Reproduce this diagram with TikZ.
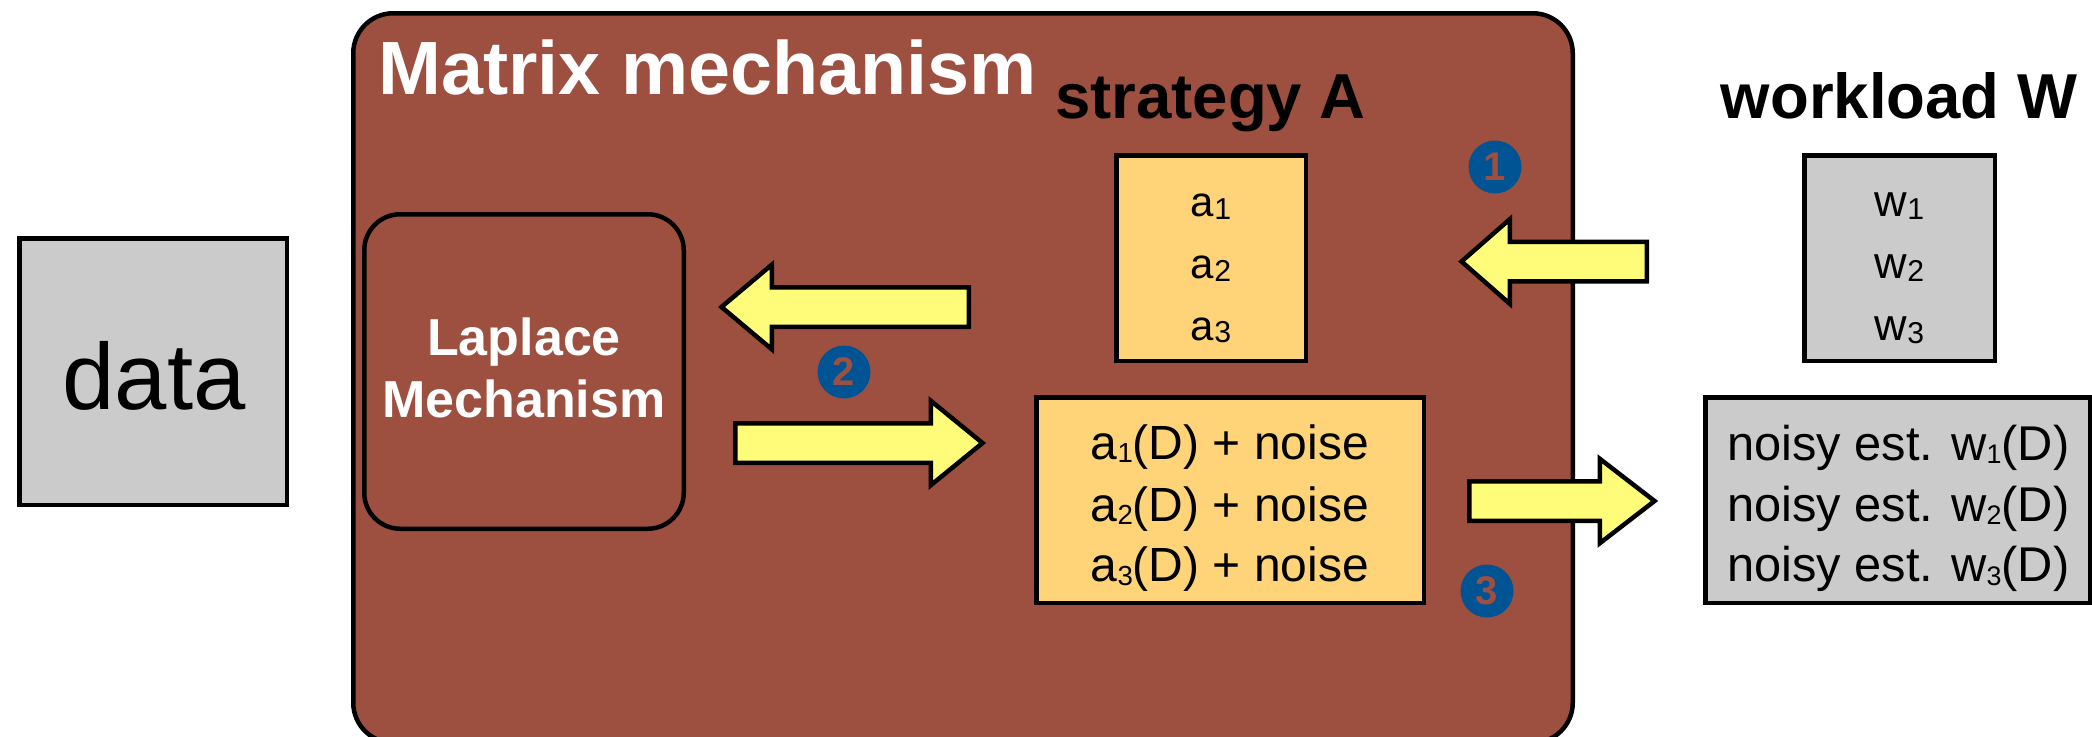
\documentclass[tikz,border=0pt]{standalone}
\usepackage{fontspec}
\setmainfont{Liberation Sans}
\usepackage{graphicx}
\definecolor{mech}{HTML}{9D4F40}
\definecolor{strat}{HTML}{FFD479}
\definecolor{work}{HTML}{CBCBCB}
\definecolor{flow}{HTML}{FFFC79}
\definecolor{stepblue}{HTML}{005493}
% lowered, shrunken index digit
\newcommand\lo[2][0.6]{\raisebox{-0.07em}{\scalebox{#1}{#2}}}
\newcommand\fsz[1]{\fontsize{#1}{#1}\selectfont}
% block arrow: tail x, head-base x, tip x, centre y
\newcommand\fatarrow[4]{%
  \draw[fatarrow] (#1,#4-19.75) -- (#2,#4-19.75) -- (#2,#4-42.25) -- (#3,#4)
    -- (#2,#4+42.25) -- (#2,#4+19.75) -- (#1,#4+19.75) -- cycle;}
\begin{document}
\begin{tikzpicture}[x=1pt,y=-1pt,
  box/.style={draw=black,line width=4.5pt,inner sep=0pt,rectangle},
  fatarrow/.style={draw=black,fill=flow,line width=4.5pt,line join=miter},
  stepmark/.style={circle,fill=stepblue,minimum size=53pt,inner sep=0pt,
    text=mech,font=\bfseries\fsz{40}},
  txt/.style={anchor=base,inner sep=0pt}]
\useasboundingbox (0,0) rectangle (2092,736);
\fill[white] (0,0) rectangle (2092,736);

% data source
\node[box,fill=work,minimum width=267.5pt,minimum height=266.5pt] (data) at (153,371.5) {};
\node[txt,font=\fsz{94}] (datalbl) at (154,409) {data};

% matrix mechanism frame
\node[box,fill=mech,rounded corners=40pt,minimum width=1219.5pt,minimum height=729.5pt] (mm) at (963,378) {};
\node[txt,anchor=base west,text=white,font=\bfseries\fsz{75.5}] (mmtitle) at (378,94) {Matrix mechanism};

% laplace mechanism
\node[box,rounded corners=36pt,minimum width=319.5pt,minimum height=314.5pt] (lap) at (524,371.5) {};
\node[txt,text=white,font=\bfseries\fsz{52}] (lap1) at (524,355) {Laplace};
\node[txt,text=white,font=\bfseries\fsz{52}] (lap2) at (524,417) {Mechanism};

% strategy
\node[txt,anchor=base west,font=\bfseries\fsz{63.5}] (strattitle) at (1055,118) {strategy A};
\node[box,fill=strat,minimum width=189.5pt,minimum height=205.5pt] (strat) at (1211,258) {};
\node[txt,font=\fsz{42}] (a1) at (1211,216.7) {a\lo[0.72]{1}};
\node[txt,font=\fsz{42}] (a2) at (1211,278.3) {a\lo[0.72]{2}};
\node[txt,font=\fsz{42}] (a3) at (1211,340) {a\lo[0.72]{3}};

% noisy answers to the strategy
\node[box,fill=strat,minimum width=387.5pt,minimum height=205.5pt] (ans) at (1230,500) {};
\node[txt,font=\fsz{48}] (ans1) at (1230,459.3) {a\lo[0.575]{1}(D) + noise};
\node[txt,font=\fsz{48}] (ans2) at (1230,521) {a\lo[0.575]{2}(D) + noise};
\node[txt,font=\fsz{48}] (ans3) at (1230,581.7) {a\lo[0.575]{3}(D) + noise};

% workload
\node[txt,font=\bfseries\fsz{63.5}] (worktitle) at (1899,118) {workload W};
\node[box,fill=work,minimum width=190.5pt,minimum height=205.5pt] (work) at (1899.5,258) {};
\node[txt,font=\fsz{45}] (w1) at (1899.5,216.7) {w\lo[0.67]{1}};
\node[txt,font=\fsz{45}] (w2) at (1899.5,278.3) {w\lo[0.67]{2}};
\node[txt,font=\fsz{45}] (w3) at (1899.5,340) {w\lo[0.67]{3}};

% workload estimates
\node[box,fill=work,minimum width=384.75pt,minimum height=205.5pt] (est) at (1897.6,500) {};
\node[txt,anchor=base west,font=\fsz{48.8}] (est1) at (1727,460) {noisy est. w\lo[0.55]{1}(D)};
\node[txt,anchor=base west,font=\fsz{48.8}] (est2) at (1727,521) {noisy est. w\lo[0.55]{2}(D)};
\node[txt,anchor=base west,font=\fsz{48.8}] (est3) at (1727,581.7) {noisy est. w\lo[0.55]{3}(D)};

% flow arrows
\fatarrow{1646.75}{1509.75}{1461.5}{261.5}
\fatarrow{968.75}{771.75}{721.5}{307}
\fatarrow{735.25}{930.75}{982.5}{443}
\fatarrow{1469.25}{1599.75}{1654.5}{501}

% step markers
\node[stepmark] (s1) at (1495,167) {1};
\node[stepmark] (s2) at (844,372) {2};
\node[stepmark] (s3) at (1487,591) {3};
\end{tikzpicture}
\end{document}
